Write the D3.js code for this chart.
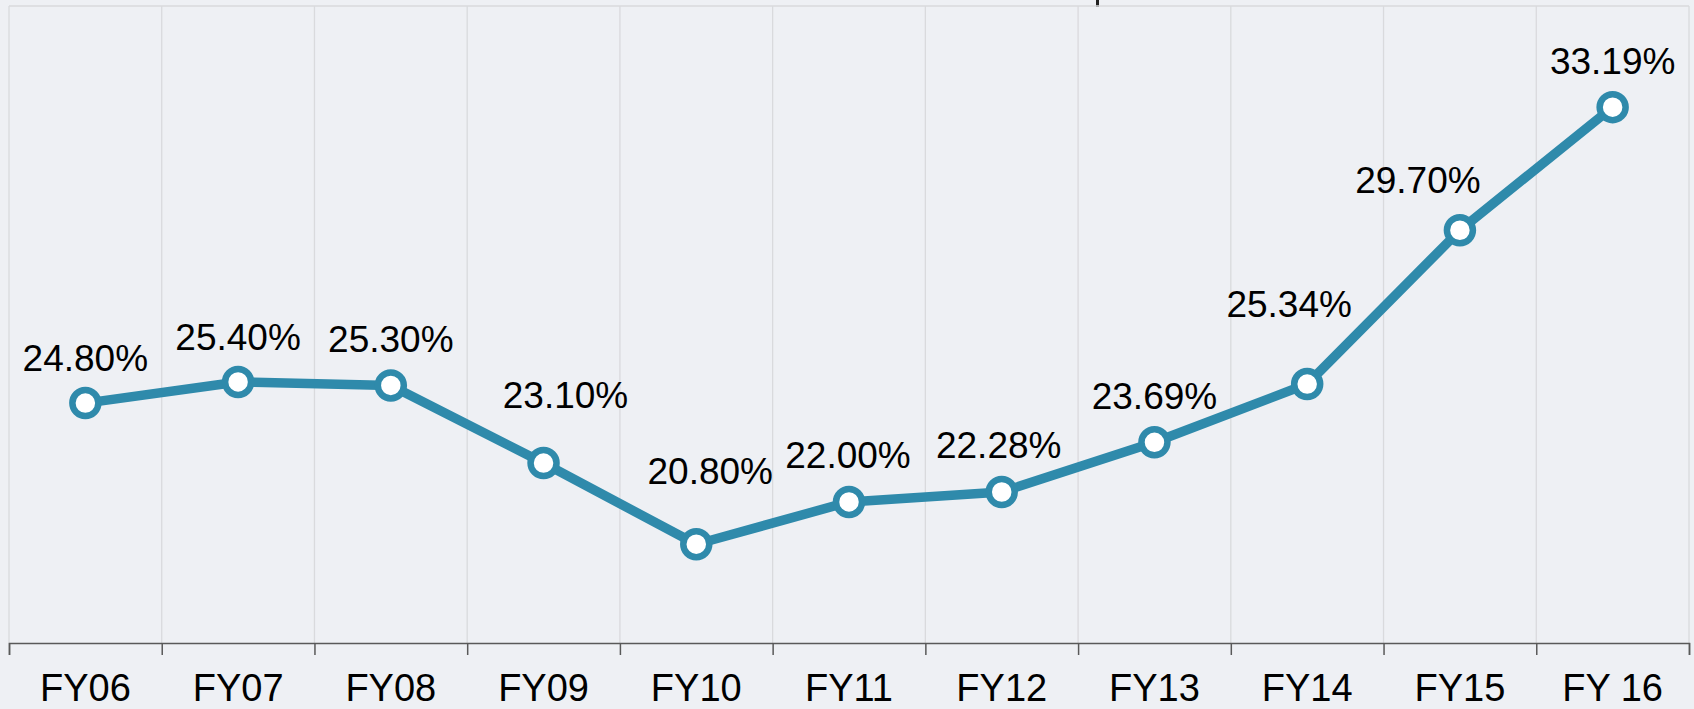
<!DOCTYPE html>
<html>
<head>
<meta charset="utf-8">
<script src="https://cdn.jsdelivr.net/npm/d3@7"></script>
<style>
  html, body { margin: 0; padding: 0; background: #eef0f4; }
  svg { display: block; }
  text { font-family: "Liberation Sans", Arial, sans-serif; }
</style>
</head>
<body>
<svg id="chart" width="1694" height="709"></svg>
<script>
// ---- data ----
const categories = ["FY06", "FY07", "FY08", "FY09", "FY10", "FY11", "FY12", "FY13", "FY14", "FY15", "FY 16"];
const values = [24.80, 25.40, 25.30, 23.10, 20.80, 22.00, 22.28, 23.69, 25.34, 29.70, 33.19];
const valueLabels = ["24.80%", "25.40%", "25.30%", "23.10%", "20.80%", "22.00%", "22.28%", "23.69%", "25.34%", "29.70%", "33.19%"];
const yDomain = [18, 36];

// ---- layout / style (label nudges as in the original) ----
const labelDx = [0, 0, 0, 22, 14, -1, -3, 0, -18, -42, 0];
const labelDy = [-32, -32, -33, -55, -60, -34, -34, -33, -67, -37, -33];
const W = 1694, H = 709;
const plot = { left: 9, right: 1689, top: 6, bottom: 643 };
const lineColor = "#2f8aab";

const svg = d3.select("#chart");
svg.append("rect").attr("width", W).attr("height", H).attr("fill", "#eef0f4");

const x = d3.scaleBand().domain(categories).range([plot.left, plot.right]).padding(0);
const edge = d3.scaleLinear().domain([0, categories.length]).range([plot.left, plot.right]);
const y = d3.scaleLinear().domain(yDomain).range([plot.bottom, plot.top + 2]);
const cx = c => x(c) + x.bandwidth() / 2;

// cut-off title fragment at the very top
svg.append("line").attr("x1", 1097.5).attr("x2", 1097.5).attr("y1", 0).attr("y2", 7)
  .attr("stroke", "#222").attr("stroke-width", 3);

// vertical gridlines at band edges
const edges = d3.range(categories.length + 1);
svg.append("g").selectAll("line").data(edges).join("line")
  .attr("x1", d => edge(d)).attr("x2", d => edge(d))
  .attr("y1", plot.top).attr("y2", plot.bottom)
  .attr("stroke", "#d9dadd").attr("stroke-width", 1.3);
// top border
svg.append("line").attr("x1", plot.left).attr("x2", plot.right)
  .attr("y1", plot.top).attr("y2", plot.top)
  .attr("stroke", "#d9dadd").attr("stroke-width", 1.5);

// x axis: ticks at band edges
const tickAxis = d3.axisBottom(edge).tickValues(edges).tickSize(12).tickFormat("");
const gTicks = svg.append("g").attr("transform", `translate(0,${plot.bottom})`).call(tickAxis);
gTicks.selectAll("path, line").attr("stroke", "#595959").attr("stroke-width", 1.5);

const labelAxis = d3.axisBottom(x).tickSize(0).tickPadding(31);
const gLabels = svg.append("g").attr("transform", `translate(0,${plot.bottom})`).call(labelAxis);
gLabels.select(".domain").remove();
gLabels.selectAll("text").attr("font-size", 38).attr("fill", "#000")
  .attr("font-family", "'Liberation Sans', Arial, sans-serif");

// line
const line = d3.line().x((d, i) => cx(categories[i])).y(d => y(d));
svg.append("path").datum(values).attr("d", line)
  .attr("fill", "none").attr("stroke", lineColor).attr("stroke-width", 9.5)
  .attr("stroke-linejoin", "round").attr("stroke-linecap", "round");

// markers
svg.append("g").selectAll("circle").data(values).join("circle")
  .attr("cx", (d, i) => cx(categories[i])).attr("cy", d => y(d))
  .attr("r", 13).attr("fill", "#fff").attr("stroke", lineColor).attr("stroke-width", 6.5);

// data labels
svg.append("g").selectAll("text").data(values).join("text")
  .attr("x", (d, i) => cx(categories[i]) + labelDx[i])
  .attr("y", (d, i) => y(d) + labelDy[i])
  .attr("text-anchor", "middle").attr("font-size", 37).attr("fill", "#000")
  .text((d, i) => valueLabels[i]);
</script>
</body>
</html>
